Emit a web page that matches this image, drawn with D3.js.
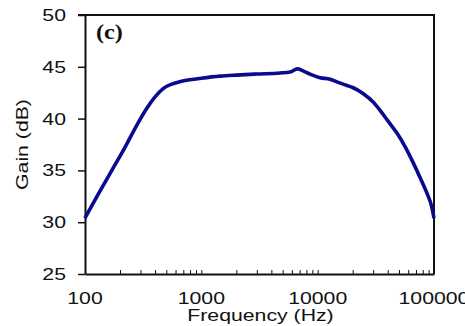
<!DOCTYPE html>
<html>
<head>
<meta charset="utf-8">
<script src="https://cdn.jsdelivr.net/npm/d3@7"></script>
<style>
  body { margin: 0; background: #fff; }
  svg { display: block; }
</style>
</head>
<body>
<svg width="465" height="326"></svg>
<script>
// frequency (Hz) and gain (dB)
const freq = [100, 130, 170, 220, 280, 340, 400, 470, 550, 650, 800, 1000, 1450, 2000, 3000,
              4750, 5800, 6700, 7500, 8600, 10500, 12800, 15000, 17800, 20000, 24700, 30000,
              34400, 40000, 48000, 57000, 66500, 76000, 87000, 95000, 100000];
const gain = [30.4, 32.7, 35.0, 37.2, 39.4, 41.0, 42.1, 42.9, 43.3, 43.55, 43.75, 43.9, 44.1, 44.2, 44.3,
              44.4, 44.5, 44.8, 44.6, 44.3, 43.95, 43.8, 43.5, 43.2, 43.0, 42.4, 41.6,
              40.8, 39.8, 38.6, 37.2, 35.7, 34.3, 32.8, 31.6, 30.4];

const yTicks = [25, 30, 35, 40, 45, 50];
const xLabels = [100, 1000, 10000, 100000];
const xTicks = [];
[100, 1000, 10000].forEach(d => { for (let k = 2; k <= 10; k++) xTicks.push(d * k); });

const svg = d3.select("svg");
const mLeft = 85, mRight = 434, mTop = 15, mBottom = 274;
const sx = 1.25; // the original text is stretched horizontally
const sans = "'Liberation Sans', Arial, sans-serif";

const x = d3.scaleLog().domain([100, 100000]).range([mLeft, mRight]);
const y = d3.scaleLinear().domain([25, 50]).range([mBottom, mTop]);

// frame: top and right edges
svg.append("path")
  .attr("d", `M${mLeft - 7},${mTop}H${mRight}V${mBottom}`)
  .attr("fill", "none")
  .attr("stroke", "#111")
  .attr("stroke-width", 2);

// y axis
const yAxis = svg.append("g")
  .attr("transform", `translate(${mLeft},0)`)
  .call(d3.axisLeft(y).tickValues(yTicks).tickSize(7).tickSizeOuter(0));
yAxis.select(".domain").attr("stroke", "#111").attr("stroke-width", 2);
yAxis.selectAll(".tick line").attr("stroke", "#111").attr("stroke-width", 1.5);
yAxis.selectAll(".tick text")
  .attr("x", -19 / sx)
  .attr("transform", `scale(${sx},1)`)
  .style("font-family", sans)
  .style("font-size", "17px")
  .attr("fill", "#111");

// x axis, ticks pointing inward
const xAxis = svg.append("g")
  .attr("transform", `translate(0,${mBottom})`)
  .call(d3.axisBottom(x).tickValues(xTicks).tickSize(-4).tickSizeOuter(0).tickFormat(""));
xAxis.select(".domain").attr("stroke", "#111").attr("stroke-width", 2);
xAxis.selectAll(".tick line").attr("stroke", "#111").attr("stroke-width", 1);

svg.append("g").selectAll("text")
  .data(xLabels)
  .join("text")
  .attr("transform", d => `translate(${x(d)},304) scale(${sx},1)`)
  .attr("text-anchor", "middle")
  .style("font-family", sans)
  .style("font-size", "17px")
  .attr("fill", "#111")
  .text(d => d);

// axis titles
svg.append("text")
  .attr("transform", `translate(${(mLeft + mRight) / 2 + 1},321) scale(${sx},1)`)
  .attr("text-anchor", "middle")
  .style("font-family", sans)
  .style("font-size", "17px")
  .attr("fill", "#111")
  .text("Frequency (Hz)");

svg.append("text")
  .attr("transform", `translate(28,${(mTop + mBottom) / 2}) rotate(-90) scale(${sx},1)`)
  .attr("text-anchor", "middle")
  .style("font-family", sans)
  .style("font-size", "17px")
  .attr("fill", "#111")
  .text("Gain (dB)");

// panel label
svg.append("text")
  .attr("transform", `translate(96,39) scale(1.15,1)`)
  .style("font-family", "'Liberation Serif', 'Times New Roman', serif")
  .style("font-weight", "bold")
  .style("font-size", "21px")
  .attr("fill", "#111")
  .text("(c)");

// gain curve
const pts = freq.map((f, i) => [f, gain[i]]);
svg.append("path")
  .datum(pts)
  .attr("fill", "none")
  .attr("stroke", "#0a0a8c")
  .attr("stroke-width", 3.6)
  .attr("stroke-linejoin", "round")
  .attr("d", d3.line().x(d => x(d[0])).y(d => y(d[1])).curve(d3.curveMonotoneX));
</script>
</body>
</html>
